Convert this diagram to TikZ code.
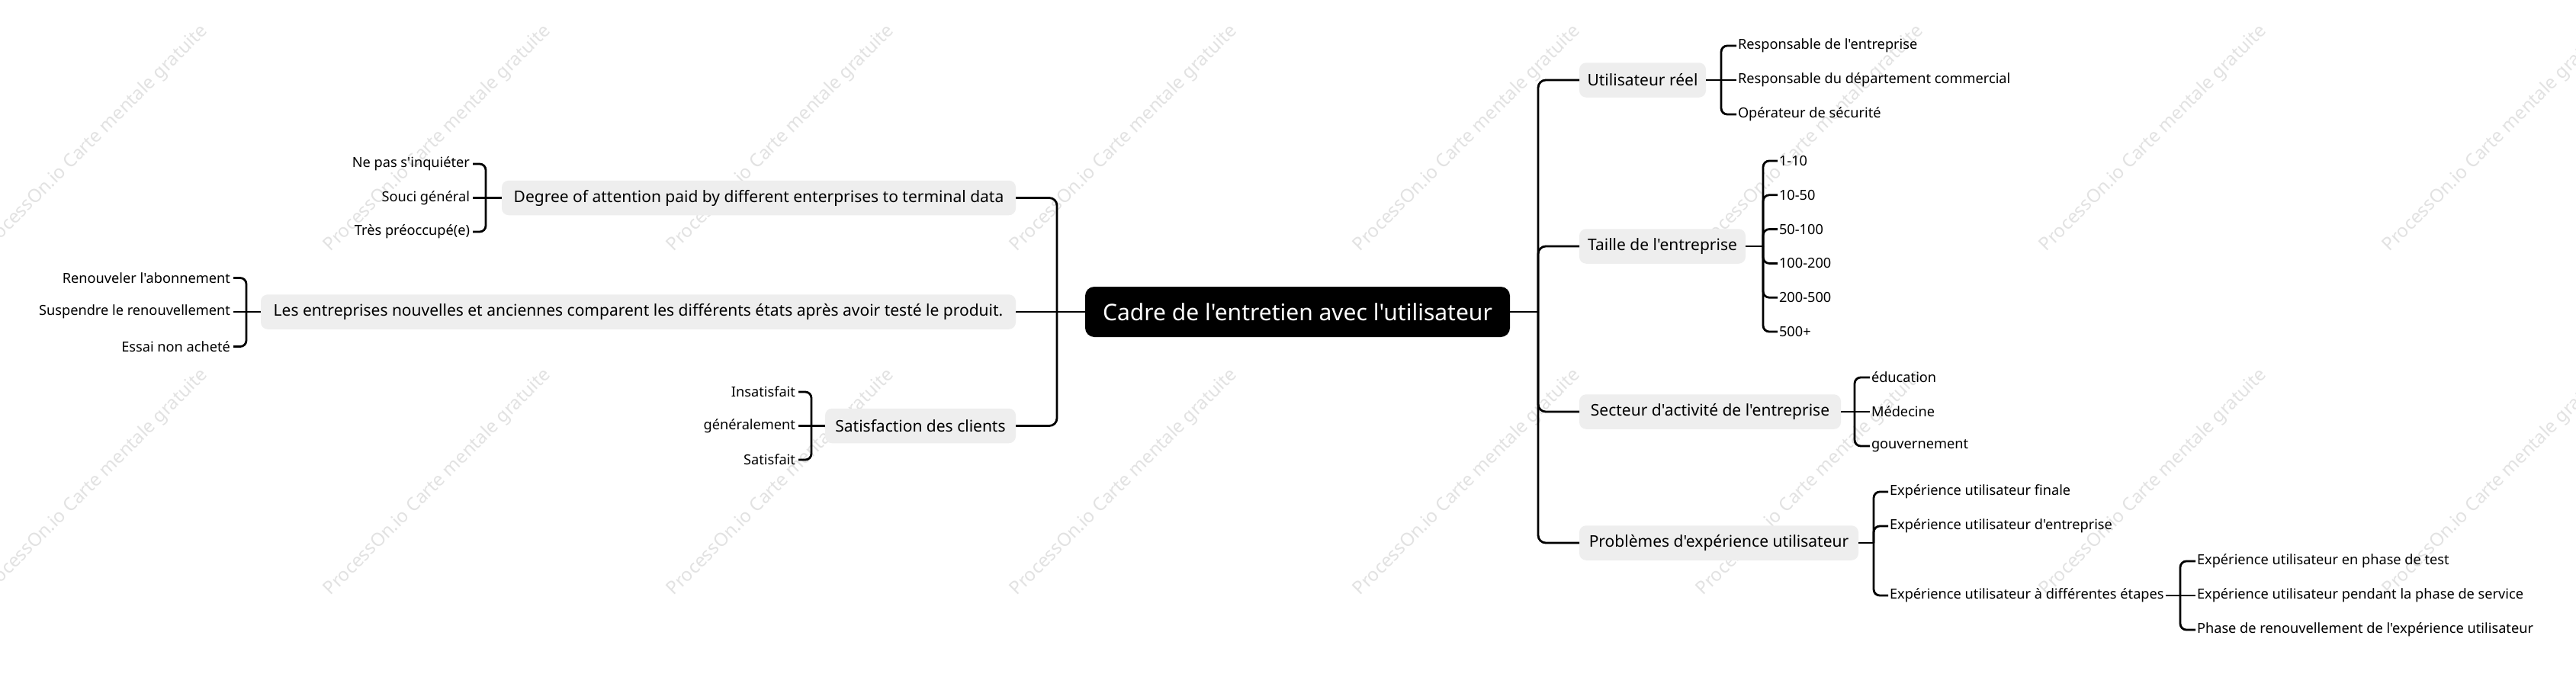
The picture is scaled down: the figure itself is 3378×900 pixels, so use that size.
\documentclass[tikz,border=0pt]{standalone}
\usepackage{fontspec}
\setmainfont{Noto Sans}[Ligatures=TeXOff]
\definecolor{boxgray}{HTML}{EEEEEE}
\definecolor{wmgray}{HTML}{E2E2E2}
\begin{document}
\begin{tikzpicture}[x=0.5pt,y=-0.5pt,
  every node/.style={outer sep=0pt},
  conn/.style={line width=1.4pt, rounded corners=5pt},
  brk/.style={line width=1.4pt, rounded corners=4pt},
  rootbox/.style={fill=black, text=white, rounded corners=6pt, inner xsep=7pt, inner ysep=0pt,
    minimum width=278.5pt, minimum height=33pt, font=\fontsize{15}{18}\selectfont},
  subbox/.style={fill=boxgray, rounded corners=4.5pt, inner xsep=5pt, inner ysep=0pt,
    minimum height=22.75pt, font=\fontsize{10.5}{12.6}\selectfont},
  leafl/.style={anchor=east, inner xsep=2pt, inner ysep=1pt, font=\fontsize{9.1}{11}\selectfont},
  leafr/.style={anchor=west, inner xsep=1pt, inner ysep=1pt, font=\fontsize{9.1}{11}\selectfont},
  wm/.style={rotate=45, text=wmgray, inner sep=0pt, font=\fontsize{12}{14}\selectfont}
]
\useasboundingbox (0,0) rectangle (3378,900);
\fill[white] (0,0) rectangle (3378,900);
% watermarks
\begin{scope}
\clip (0,0) rectangle (3378,900);
\foreach \i in {0,...,7}{
  \node[wm] (wma\i) at (124+450*\i,182) {ProcessOn.io Carte mentale gratuite};
  \node[wm] (wmb\i) at (124+450*\i,633) {ProcessOn.io Carte mentale gratuite};
}
\end{scope}

% root
\node[rootbox] (root) at (1701.5,409) {Cadre de l'entretien avec l'utilisateur};
\coordinate (ls) at (1386,409);
\coordinate (rs) at (2017,409);

% left branches
\node[subbox, anchor=east, minimum width=337pt] (deg) at (1332,259.5) {Degree of attention paid by different enterprises to terminal data};
\node[subbox, anchor=east, minimum width=495pt] (les) at (1332,409) {Les entreprises nouvelles et anciennes comparent les différents états après avoir testé le produit.};
\node[subbox, anchor=east, minimum width=125pt] (sat) at (1332,558.5) {Satisfaction des clients};

\draw[conn] (root.west) -- (ls);
\draw[conn] (deg.east) -| (ls);
\draw[conn] (les.east) -- (ls);
\draw[conn] (sat.east) -| (ls);

% degree leaves
\node[leafl] (d1) at (620,215) {Ne pas s'inquiéter};
\node[leafl] (d2) at (620,259.5) {Souci général};
\node[leafl] (d3) at (620,304) {Très préoccupé(e)};
\coordinate (bd) at (637,259.5);
\draw[brk] (deg.west) -- (bd);
\draw[brk] (d1.east) -| (bd);
\draw[brk] (d2.east) -- (bd);
\draw[brk] (d3.east) -| (bd);

% les leaves
\node[leafl] (e1) at (306,364.5) {Renouveler l'abonnement};
\node[leafl] (e2) at (306,409) {Suspendre le renouvellement};
\node[leafl] (e3) at (306,454.5) {Essai non acheté};
\coordinate (be) at (323,409);
\draw[brk] (les.west) -- (be);
\draw[brk] (e1.east) -| (be);
\draw[brk] (e2.east) -- (be);
\draw[brk] (e3.east) -| (be);

% satisfaction leaves
\node[leafl] (s1) at (1047,514) {Insatisfait};
\node[leafl] (s2) at (1047,558.5) {généralement};
\node[leafl] (s3) at (1047,603) {Satisfait};
\coordinate (bs) at (1064,558.5);
\draw[brk] (sat.west) -- (bs);
\draw[brk] (s1.east) -| (bs);
\draw[brk] (s2.east) -- (bs);
\draw[brk] (s3.east) -| (bs);

% right branches
\node[subbox, anchor=west, minimum width=83pt] (usr) at (2071,105) {Utilisateur réel};
\node[subbox, anchor=west, minimum width=109pt] (tai) at (2071,323) {Taille de l'entreprise};
\node[subbox, anchor=west, minimum width=171.5pt] (sec) at (2071,540) {Secteur d'activité de l'entreprise};
\node[subbox, anchor=west, minimum width=183pt] (pro) at (2071,712) {Problèmes d'expérience utilisateur};

\draw[conn] (root.east) -- (rs);
\draw[conn] (usr.west) -| (rs);
\draw[conn] (tai.west) -| (rs);
\draw[conn] (sec.west) -| (rs);
\draw[conn] (pro.west) -| (rs);

% utilisateur leaves
\node[leafr] (u1) at (2277,60) {Responsable de l'entreprise};
\node[leafr] (u2) at (2277,105) {Responsable du département commercial};
\node[leafr] (u3) at (2277,150) {Opérateur de sécurité};
\coordinate (bu) at (2257,105);
\draw[brk] (usr.east) -- (bu);
\draw[brk] (u1.west) -| (bu);
\draw[brk] (u2.west) -- (bu);
\draw[brk] (u3.west) -| (bu);

% taille leaves
\node[leafr] (t1) at (2331,211) {1-10};
\node[leafr] (t2) at (2331,255.8) {10-50};
\node[leafr] (t3) at (2331,300.6) {50-100};
\node[leafr] (t4) at (2331,345.4) {100-200};
\node[leafr] (t5) at (2331,390.2) {200-500};
\node[leafr] (t6) at (2331,435) {500+};
\coordinate (bt) at (2312,323);
\draw[brk] (tai.east) -- (bt);
\foreach \k in {1,...,6}{ \draw[brk] (t\k.west) -| (bt); }

% secteur leaves
\node[leafr] (c1) at (2452,495) {éducation};
\node[leafr] (c2) at (2452,540) {Médecine};
\node[leafr] (c3) at (2452,585) {gouvernement};
\coordinate (bc) at (2432,540);
\draw[brk] (sec.east) -- (bc);
\draw[brk] (c1.west) -| (bc);
\draw[brk] (c2.west) -- (bc);
\draw[brk] (c3.west) -| (bc);

% problemes leaves
\node[leafr] (p1) at (2476,645) {Expérience utilisateur finale};
\node[leafr] (p2) at (2476,690) {Expérience utilisateur d'entreprise};
\node[leafr] (p3) at (2476,781) {Expérience utilisateur à différentes étapes};
\coordinate (bp) at (2457,712);
\draw[brk] (pro.east) -- (bp);
\draw[brk] (p1.west) -| (bp);
\draw[brk] (p2.west) -| (bp);
\draw[brk] (p3.west) -| (bp);

% etapes leaves
\node[leafr] (g1) at (2879,736) {Expérience utilisateur en phase de test};
\node[leafr] (g2) at (2879,781) {Expérience utilisateur pendant la phase de service};
\node[leafr] (g3) at (2879,826) {Phase de renouvellement de l'expérience utilisateur};
\coordinate (bg) at (2859,781);
\draw[brk] (p3.east) -- (bg);
\draw[brk] (g1.west) -| (bg);
\draw[brk] (g2.west) -- (bg);
\draw[brk] (g3.west) -| (bg);
\end{tikzpicture}
\end{document}
